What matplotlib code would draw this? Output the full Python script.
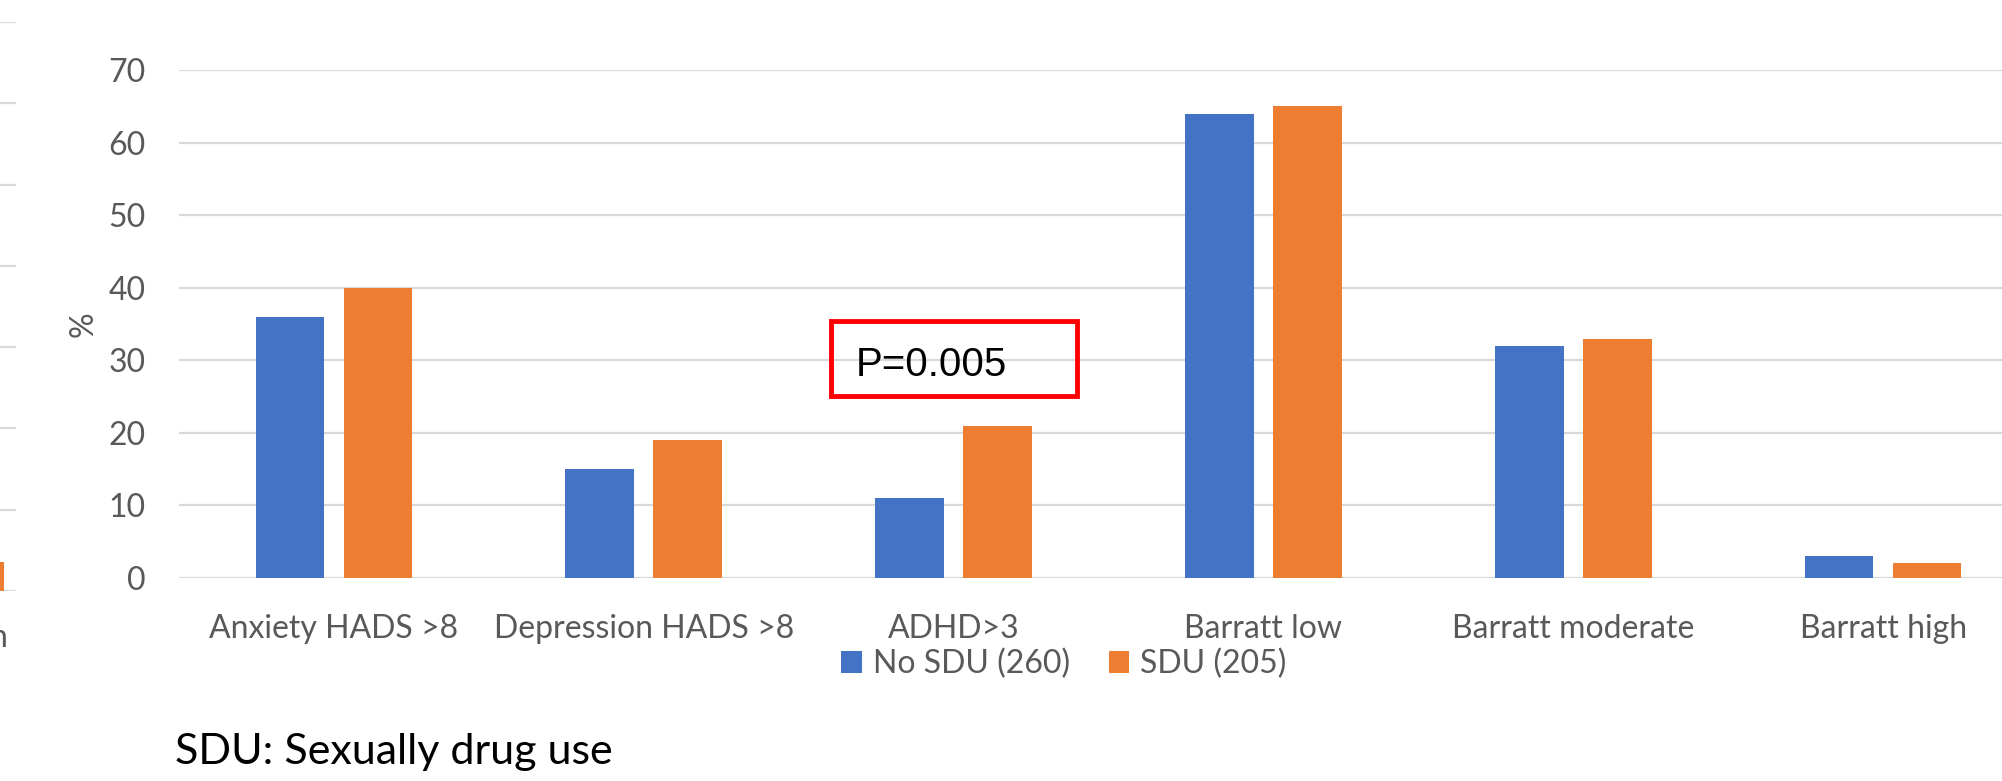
import matplotlib.pyplot as plt
import numpy as np
from matplotlib.patches import Rectangle

categories = ["Anxiety HADS >8", "Depression HADS >8", "ADHD>3",
              "Barratt low", "Barratt moderate", "Barratt high"]
no_sdu = [36, 15, 11, 64, 32, 3]
sdu = [40, 19, 21, 65, 33, 2]
series_labels = ["No SDU (260)", "SDU (205)"]
y_ticks = [0, 10, 20, 30, 40, 50, 60, 70]
# sliver of the neighbouring chart visible at the left edge
left_piece_value = [3.6]

BLUE = "#4472C4"
ORANGE = "#ED7D31"
GRID = "#D9D9D9"
TEXT = "#595959"
W, H = 2002, 781

plt.rcParams["font.family"] = ["Lato", "DejaVu Sans"]

fig = plt.figure(figsize=(W / 100, H / 100), dpi=100)


def px_rect(x0, y0, x1, y1):
    """figure-pixel box (top-left origin) -> axes rect in figure fractions"""
    return [x0 / W, 1 - y1 / H, (x1 - x0) / W, (y1 - y0) / H]


# main chart
ax = fig.add_axes(px_rect(179, 70, 2038, 578))
x = np.arange(len(categories))
bw = 0.222
off = 0.142
ax.bar(x - off, no_sdu, bw, color=BLUE, label=series_labels[0], zorder=3)
ax.bar(x + off, sdu, bw, color=ORANGE, label=series_labels[1], zorder=3)
ax.set_xlim(-0.5, len(categories) - 0.5)
ax.set_ylim(0, 70)
ax.set_yticks(y_ticks)
ax.set_xticks(x)
ax.set_xticklabels(categories)
ax.yaxis.grid(True, color=GRID, linewidth=1.6, zorder=0)
for s in ax.spines.values():
    s.set_visible(False)
ax.tick_params(axis="both", length=0, labelsize=23, labelcolor=TEXT)
ax.tick_params(axis="x", pad=26)
ax.tick_params(axis="y", pad=24)
ax.set_ylabel("%", fontsize=23, color=TEXT)
ax.yaxis.set_label_coords(-0.043, 0.5)

# p-value annotation
fig.patches.append(Rectangle((831 / W, 1 - 396 / H), (1077 - 831) / W, (396 - 321) / H,
                             transform=fig.transFigure, fill=False,
                             edgecolor="#FF0000", linewidth=3.5))
fig.text(856 / W, 1 - 365 / H, "P=0.005", fontsize=29, color="black",
         family=["Liberation Sans", "DejaVu Sans"], va="center", ha="left")

# legend
handles, labels = ax.get_legend_handles_labels()
fig.legend(handles, labels, loc="center", bbox_to_anchor=(1064 / W, 1 - 664 / H),
           ncol=2, frameon=False, fontsize=23, labelcolor=TEXT,
           handlelength=0.65, handleheight=0.65, handletextpad=0.35,
           columnspacing=1.2)

# footnote
fig.text(175 / W, 1 - 752 / H, "SDU: Sexually drug use", fontsize=31,
         color="black", va="center", ha="left")

# edge of neighbouring chart
ax2 = fig.add_axes(px_rect(-40, 22, 16, 591))
ax2.bar([-0.3], left_piece_value, 0.18, color=ORANGE, zorder=3)
ax2.set_xlim(-1.0, 0.0)
ax2.set_ylim(0, 70)
ax2.set_yticks(y_ticks)
ax2.yaxis.grid(True, color=GRID, linewidth=1.6, zorder=0)
ax2.set_xticks([])
ax2.set_yticklabels([])
ax2.tick_params(length=0)
for s in ax2.spines.values():
    s.set_visible(False)
ax2.patch.set_alpha(0)
fig.text(8 / W, 1 - 638 / H, "n", fontsize=23, color=TEXT, va="center", ha="right")

fig.savefig("out.png", dpi=100)
